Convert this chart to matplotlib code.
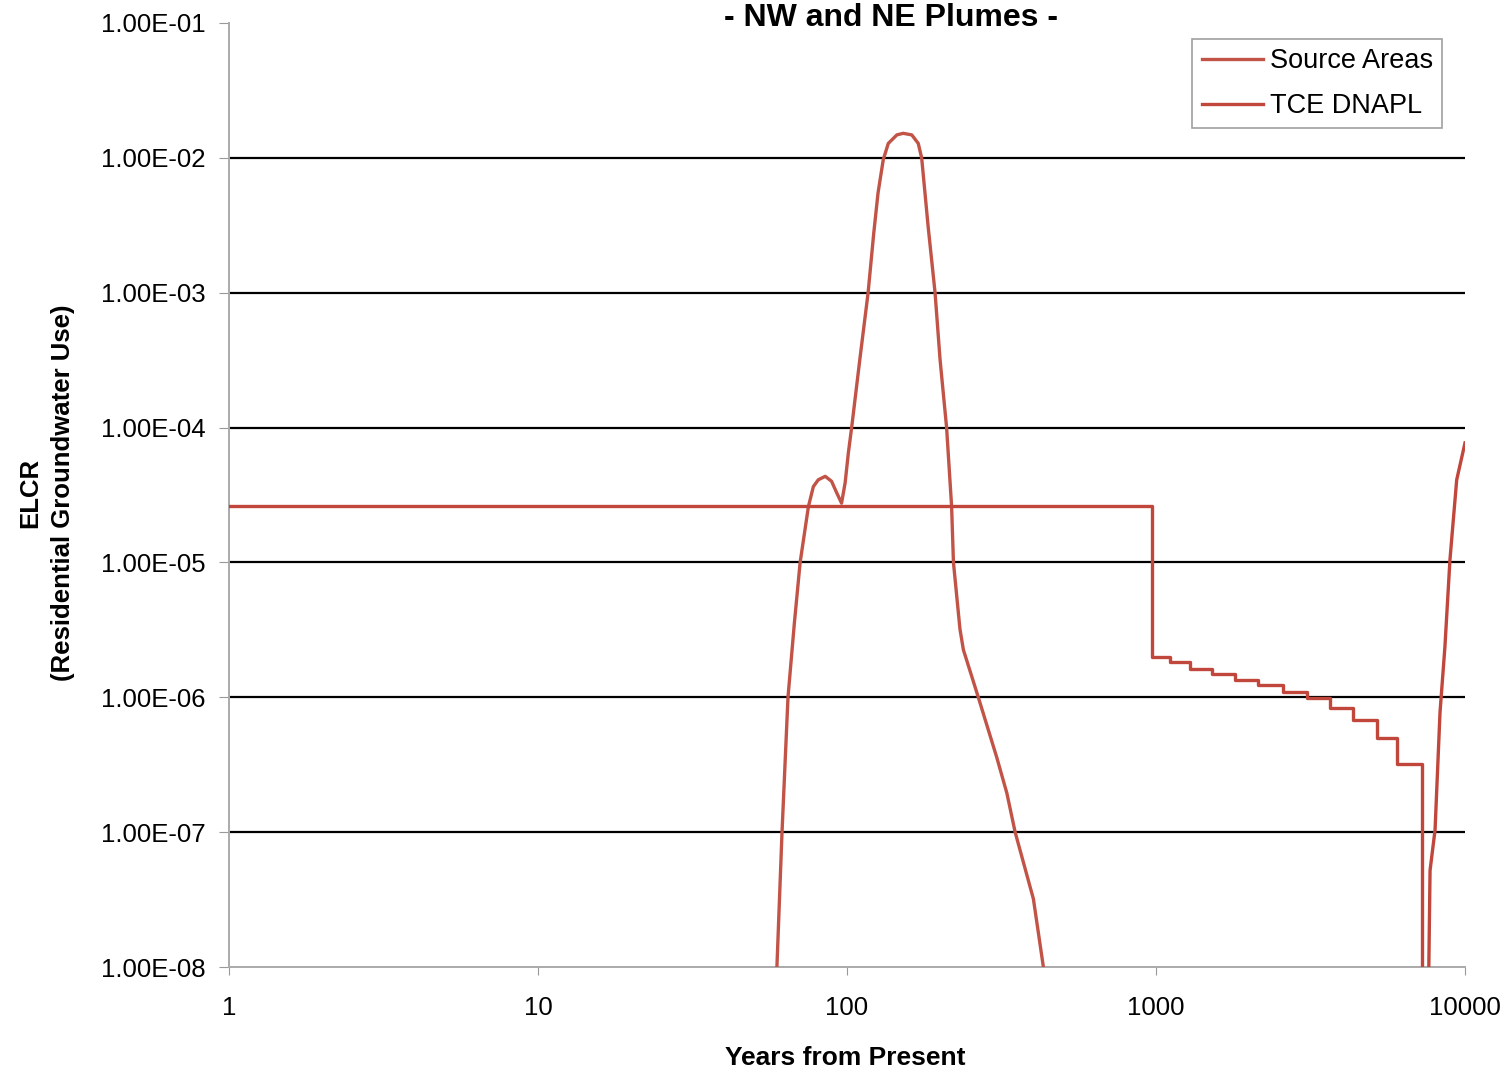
import numpy as np
import matplotlib
matplotlib.use("Agg")
import matplotlib.pyplot as plt

plt.rcParams['font.family'] = ['Liberation Sans', 'DejaVu Sans']

# Source Areas: plume pulse (years, ELCR)
src_years = [58, 59.3, 61.6, 64.4, 67.5, 70.5, 75, 77.8, 80.7, 85, 89.1, 92.5, 96, 98.6, 101, 103.5,
             110, 117, 122, 126, 131, 136, 145, 152, 162, 170, 174.4, 183, 192.7, 200, 210, 218,
             221, 232, 238, 266, 305, 329, 350, 401, 432, 440]
src_elcr = [5e-9, 1e-8, 1e-7, 1e-6, 3.5e-6, 1e-5, 2.6e-5, 3.65e-5, 4.1e-5, 4.35e-5, 4.0e-5, 3.3e-5, 2.75e-5,
            3.9e-5, 6.5e-5, 1e-4,
            3.2e-4, 1e-3, 2.75e-3, 5.5e-3, 9.7e-3, 1.28e-2, 1.48e-2, 1.52e-2, 1.48e-2, 1.28e-2, 1e-2, 3.1e-3,
            1e-3, 3.2e-4, 1e-4, 2.6e-5,
            1e-5, 3.2e-6, 2.25e-6, 1e-6, 3.6e-7, 1.95e-7, 1e-7, 3.2e-8, 1e-8, 5e-9]

# TCE DNAPL: constant, then stepped decline, then late rise
tce_years = [1, 970, 970, 1110, 1290, 1518, 1800, 2138, 2576, 3073, 3656, 4350, 5177, 6010, 7244, 7244,
             7540, 7707, 8000, 8300, 8610, 8940, 9400, 10000]
tce_elcr = [2.6e-5, 2.6e-5, 2.0e-6, 1.82e-6, 1.62e-6, 1.48e-6, 1.35e-6, 1.23e-6, 1.10e-6, 9.8e-7, 8.3e-7,
            6.8e-7, 5.0e-7, 3.2e-7, 1.64e-7, 1e-9,
            1e-9, 5.2e-8, 1.04e-7, 7.7e-7, 2.37e-6, 1.05e-5, 4.1e-5, 7.7e-5]
tce_steps = 16  # first points drawn as steps

ytick_vals = [1e-8, 1e-7, 1e-6, 1e-5, 1e-4, 1e-3, 1e-2, 1e-1]
ytick_labels = ['1.00E-08', '1.00E-07', '1.00E-06', '1.00E-05', '1.00E-04', '1.00E-03', '1.00E-02', '1.00E-01']
xtick_vals = [1, 10, 100, 1000, 10000]
xtick_labels = ['1', '10', '100', '1000', '10000']


def plot_elcr():
    fig = plt.figure(figsize=(15.1, 10.74), dpi=100)
    ax = fig.add_axes([0.1517, 0.0996, 0.8185, 0.879])

    sx = tce_years[:tce_steps]
    sy = tce_elcr[:tce_steps]
    line_color = '#c1463b'
    ax.plot(src_years, src_elcr, color='#c25347', lw=2.4, label='Source Areas', zorder=3,
            solid_joinstyle='round')
    ax.step(sx, sy, where='post', color=line_color, lw=2.4, label='TCE DNAPL', zorder=3)
    ax.plot(tce_years[tce_steps - 1:], tce_elcr[tce_steps - 1:], color=line_color, lw=2.4, zorder=3)

    ax.set_xscale('log')
    ax.set_yscale('log')
    ax.set_xlim(1, 10000)
    ax.set_ylim(1e-8, 1e-1)

    for v in ytick_vals[1:-1]:
        ax.axhline(v, color='black', lw=1.6, zorder=1)

    ax.set_yticks(ytick_vals)
    ax.set_yticklabels(ytick_labels)
    ax.set_xticks(xtick_vals)
    ax.set_xticklabels(xtick_labels)
    ax.minorticks_off()
    ax.tick_params(axis='y', labelsize=18.5, length=7, pad=10, color='#999999')
    ax.tick_params(axis='x', labelsize=18.5, length=6, pad=15, color='#999999')

    for s in ['top', 'right']:
        ax.spines[s].set_visible(False)
    for s in ['left', 'bottom']:
        ax.spines[s].set_color('#aaaaaa')
        ax.spines[s].set_linewidth(1.4)

    fig.text(0.590, 1 - 26 / 1074, '- NW and NE Plumes -', ha='center', va='baseline',
             fontsize=23, fontweight='bold')
    fig.text(0.560, 0.015, 'Years from Present', ha='center', va='center',
             fontsize=19, fontweight='bold')
    fig.text(0.031, 0.541, 'ELCR\n(Residential Groundwater Use)', ha='center', va='center',
             rotation=90, multialignment='center', fontsize=18.5, fontweight='bold', linespacing=1.45)

    leg = ax.legend(loc='upper right', bbox_to_anchor=(0.9815, 0.9835), fontsize=19.5, frameon=True,
                    fancybox=False, edgecolor='#888888', handlelength=2.25, borderpad=0.35,
                    labelspacing=0.7, handletextpad=0.25, borderaxespad=0.0)
    leg.get_frame().set_linewidth(1.2)

    fig.savefig('out.png', dpi=100)


def main():
    plot_elcr()


if __name__ == "__main__":
    main()
